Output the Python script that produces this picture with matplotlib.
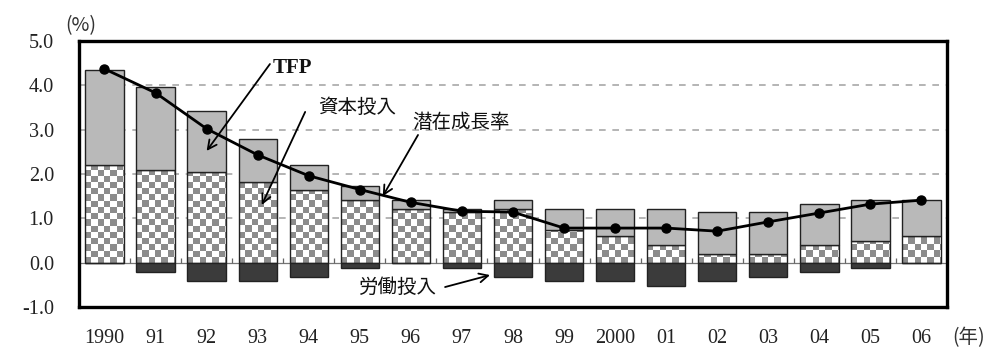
import numpy as np
import matplotlib
matplotlib.use("Agg")
import matplotlib.pyplot as plt

# Contributions to potential growth (%), 1990-2006
years = ["1990", "91", "92", "93", "94", "95", "96", "97", "98", "99",
         "2000", "01", "02", "03", "04", "05", "06"]
capital = [2.20, 2.10, 2.04, 1.83, 1.63, 1.41, 1.21, 1.14, 1.21, 0.74,
           0.59, 0.40, 0.20, 0.20, 0.40, 0.49, 0.59]
tfp = [2.15, 1.86, 1.37, 0.97, 0.58, 0.33, 0.20, 0.06, 0.20, 0.46,
       0.61, 0.80, 0.94, 0.94, 0.92, 0.92, 0.82]
labor = [0.00, -0.21, -0.41, -0.41, -0.32, -0.12, 0.00, -0.12, -0.32, -0.41,
         -0.41, -0.53, -0.41, -0.32, -0.21, -0.12, 0.00]
potential = [4.37, 3.83, 3.02, 2.43, 1.96, 1.65, 1.36, 1.16, 1.14, 0.78,
             0.78, 0.78, 0.71, 0.92, 1.12, 1.32, 1.41]

CJK = ["Noto Sans CJK JP", "DejaVu Sans"]
SERIF = ["Liberation Serif", "DejaVu Serif"]

fig = plt.figure(figsize=(9.87, 3.5), dpi=100)
ax = fig.add_axes([0.080, 0.1229, 0.8795, 0.760])

x = np.arange(len(years))
width = 0.75
edge = "#222222"

ax.set_xlim(-0.5, len(years) - 0.5)
ax.set_ylim(-1.0, 5.0)

# dashed grid
for g in [1.0, 2.0, 3.0, 4.0]:
    ax.axhline(g, color="#a8a8a8", lw=1.2, ls=(0, (4, 4)), zorder=0)

# zero line with small separators between years
ax.axhline(0, color="#777777", lw=0.9, zorder=1)
ax.vlines(x[:-1] + 0.5, 0, 0.11, color="#666666", lw=0.9, zorder=1)

# capital bars: checkered fill clipped to each bar
cap_bars = ax.bar(x, capital, width=width, facecolor="none",
                  edgecolor=edge, lw=1.0, zorder=3)
fig.canvas.draw()
px_per_x = ax.transData.transform((1, 0))[0] - ax.transData.transform((0, 0))[0]
px_per_y = ax.transData.transform((0, 1))[1] - ax.transData.transform((0, 0))[1]
cell_px = 6.2
cw = cell_px / px_per_x
ch = cell_px / px_per_y
light = np.array([1.0, 1.0, 1.0])
dark = np.array([0.55, 0.55, 0.55])
for bar in cap_bars:
    x0 = bar.get_x()
    h = bar.get_height()
    ncol = int(np.ceil(bar.get_width() / cw))
    nrow = int(np.ceil(h / ch))
    ii, jj = np.indices((nrow, ncol))
    mask = ((ii + jj) % 2 == 0)[::-1]
    img = np.where(mask[..., None], dark, light)
    im = ax.imshow(img, extent=[x0, x0 + ncol * cw, 0, nrow * ch],
                   interpolation="nearest", aspect="auto", zorder=2)
    im.set_clip_path(bar)

# TFP stacked on capital, labour below zero
ax.bar(x, tfp, bottom=capital, width=width, color="#b9b9b9",
       edgecolor=edge, lw=1.0, zorder=3)
ax.bar(x, labor, width=width, color="#3b3b3b",
       edgecolor=edge, lw=1.0, zorder=3)

# potential growth rate line
ax.plot(x, potential, color="black", lw=2.0, marker="o", ms=6.5, zorder=5)

ax.set_xlim(-0.5, len(years) - 0.5)
ax.set_ylim(-1.0, 5.0)

for s in ax.spines.values():
    s.set_linewidth(2.4)
    s.set_color("black")

ax.set_yticks([-1, 0, 1, 2, 3, 4, 5])
ax.set_yticklabels([f"{v:.1f}" for v in [-1, 0, 1, 2, 3, 4, 5]],
                   fontfamily=SERIF, fontsize=14.5, color="#222222")
ax.set_xticks(x)
ax.set_xticklabels(years, fontfamily=SERIF, fontsize=14.5, color="#222222")
ax.tick_params(axis="y", length=0, pad=18)
ax.tick_params(axis="x", length=0, pad=16)

fig.text(0.082, 0.928, "(%)", fontfamily=CJK, fontsize=14,
         ha="center", va="center", color="#333333")
fig.text(0.981, 0.036, "(年)", fontfamily=CJK, fontsize=14,
         ha="center", va="center", color="#333333")

arrow = dict(arrowstyle="->", color="black", lw=1.3,
             shrinkA=0, shrinkB=0, mutation_scale=16)

ax.text(3.67, 4.38, "TFP", fontfamily=SERIF, fontweight="bold",
        fontsize=15, ha="center", va="center", color="#111111")
ax.annotate("", xy=(2.0, 2.52), xytext=(3.24, 4.48), arrowprops=arrow)

ax.text(4.94, 3.50, "資本投入", fontfamily=CJK, fontsize=14,
        ha="center", va="center", color="#111111")
ax.annotate("", xy=(3.08, 1.30), xytext=(3.93, 3.40), arrowprops=arrow)

ax.text(6.98, 3.16, "潜在成長率", fontfamily=CJK, fontsize=14,
        ha="center", va="center", color="#111111")
ax.annotate("", xy=(5.45, 1.50), xytext=(6.14, 2.88), arrowprops=arrow)

ax.text(5.75, -0.55, "労働投入", fontfamily=CJK, fontsize=14,
        ha="center", va="center", color="#111111")
ax.annotate("", xy=(7.55, -0.28), xytext=(6.67, -0.55), arrowprops=arrow)

fig.savefig("out.png", dpi=100)
